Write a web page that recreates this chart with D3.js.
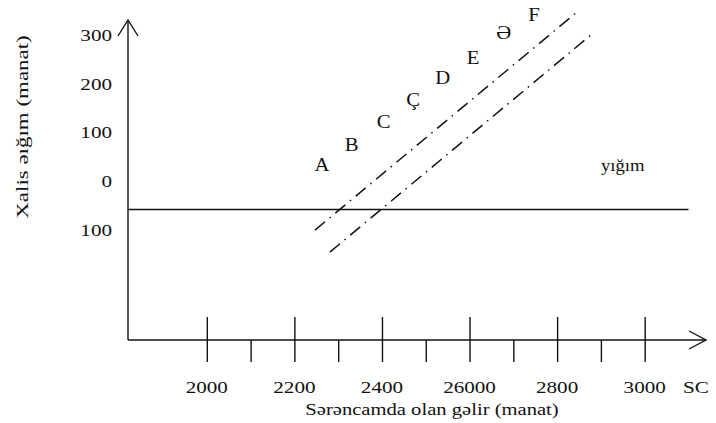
<!DOCTYPE html>
<html>
<head>
<meta charset="utf-8">
<script src="https://cdn.jsdelivr.net/npm/d3@7/dist/d3.min.js"></script>
<style>
  html, body { margin: 0; padding: 0; background: #fff; }
  svg { display: block; }
</style>
</head>
<body>
<svg id="chart" width="716" height="423"></svg>
<script>
// ---- data ----
const xTickValues = [2000, 2200, 2400, 2600, 2800, 3000];
const xTickLabels = ["2000", "2200", "2400", "26000", "2800", "3000"];
const xMinorValues = [2100, 2300, 2500, 2700, 2900];
const yTickValues = [300, 200, 100, 0, -100];
const yTickLabels = ["300", "200", "100", "0", "100"];
const pointLabels = ["A", "B", "C", "Ç", "D", "E", "Ə", "F"];
const pointX = [2263, 2331, 2404, 2471, 2539, 2608, 2678, 2747];
const pointY = [38, 79, 126, 171, 216, 257, 308, 345];
const savingsLevel = -53;          // horizontal line
const savingsLineX = [1820, 3100];
const line1X = [2247, 2845];
const line1Y = [-95, 351];
const line2X = [2281, 2882];
const line2Y = [-140, 308];
const savingsLabel = { text: "yığım", x: 2950, y: 38 };
const xAxisTitle = "Sərəncamda olan gəlir (manat)";
const yAxisTitle = "Xalis əığım  (manat)";
const xUnitLabel = "SC";

// ---- layout ----
const FONT = "'Liberation Serif', 'Times New Roman', Times, 'DejaVu Serif', serif";
const svg = d3.select("#chart");
const xDomain = [1820, 3140];
const yDomain = [-320, 335];
const x = d3.scaleLinear().domain(xDomain).range([128, 706]);
const y = d3.scaleLinear().domain(yDomain).range([340, 20]);
const ink = "#111";
const sx = 1.28; // horizontal stretch of scanned type

function stretchedText(g, px, py, str, size, anchor, stretch) {
  const t = g.append("g").attr("transform", `translate(${px},${py}) scale(${stretch},1)`);
  return t.append("text").attr("x", 0).attr("y", 0)
    .attr("font-family", FONT).attr("fill", ink)
    .attr("font-size", size).attr("text-anchor", anchor)
    .attr("dominant-baseline", "central").text(str);
}

// y axis line + arrow
svg.append("line").attr("x1", x(xDomain[0])).attr("x2", x(xDomain[0]))
  .attr("y1", y(yDomain[0])).attr("y2", y(yDomain[1]))
  .attr("stroke", ink).attr("stroke-width", 1.4);
svg.append("path")
  .attr("d", `M${x(xDomain[0]) - 10},${y(yDomain[1]) + 16} L${x(xDomain[0])},${y(yDomain[1])} L${x(xDomain[0]) + 10},${y(yDomain[1]) + 16}`)
  .attr("fill", "none").attr("stroke", ink).attr("stroke-width", 1.4);

// x axis via d3 axis
const xAxis = d3.axisBottom(x).tickValues(xTickValues).tickSize(22).tickFormat("");
const gx = svg.append("g").attr("transform", `translate(0,${y(yDomain[0])})`).call(xAxis);
gx.select(".domain").remove();
gx.selectAll(".tick line").attr("y1", -23).attr("stroke", ink).attr("stroke-width", 1.4);
const xMinor = d3.axisBottom(x).tickValues(xMinorValues).tickSize(22).tickFormat("");
const gxm = svg.append("g").attr("transform", `translate(0,${y(yDomain[0])})`).call(xMinor);
gxm.select(".domain").remove();
gxm.selectAll(".tick line").attr("stroke", ink).attr("stroke-width", 1.4);
svg.append("line").attr("x1", x(xDomain[0])).attr("x2", x(xDomain[1]))
  .attr("y1", y(yDomain[0])).attr("y2", y(yDomain[0]))
  .attr("stroke", ink).attr("stroke-width", 1.4);
svg.append("path")
  .attr("d", `M${x(xDomain[1]) - 17},${y(yDomain[0]) - 9} L${x(xDomain[1])},${y(yDomain[0])} L${x(xDomain[1]) - 17},${y(yDomain[0]) + 9}`)
  .attr("fill", "none").attr("stroke", ink).attr("stroke-width", 1.4);

// x tick labels
xTickValues.forEach((v, i) => stretchedText(svg, x(v), 387, xTickLabels[i], 16.5, "middle", sx));
stretchedText(svg, x(xDomain[1]) - 10, 387, xUnitLabel, 16.5, "middle", sx);

// y tick labels
yTickValues.forEach((v, i) => stretchedText(svg, x(xDomain[0]) - 16, y(v) - 2, yTickLabels[i], 16.5, "end", sx));

// titles
stretchedText(svg, 432, 409, xAxisTitle, 16.5, "middle", 1.25);
svg.append("g").attr("transform", `translate(22,127) rotate(-90) scale(1.35,1)`)
  .append("text").attr("font-family", FONT).attr("fill", ink)
  .attr("font-size", 17).attr("text-anchor", "middle")
  .attr("dominant-baseline", "central").text(yAxisTitle);

// horizontal savings line
svg.append("line").attr("x1", x(savingsLineX[0])).attr("x2", x(savingsLineX[1]))
  .attr("y1", y(savingsLevel)).attr("y2", y(savingsLevel))
  .attr("stroke", ink).attr("stroke-width", 1.5);

// dash-dot lines
const lineGen = d3.line().x(d => x(d[0])).y(d => y(d[1]));
[[line1X, line1Y], [line2X, line2Y]].forEach(([lx, ly]) => {
  svg.append("path").attr("d", lineGen(lx.map((v, i) => [v, ly[i]])))
    .attr("fill", "none").attr("stroke", ink).attr("stroke-width", 1.5)
    .attr("stroke-dasharray", "13,6,1.5,6");
});

// point letters
pointLabels.forEach((l, i) => stretchedText(svg, x(pointX[i]), y(pointY[i]), l, 18, "middle", 1.15));
stretchedText(svg, x(savingsLabel.x), y(savingsLabel.y), savingsLabel.text, 17, "middle", 1.1);
</script>
</body>
</html>
